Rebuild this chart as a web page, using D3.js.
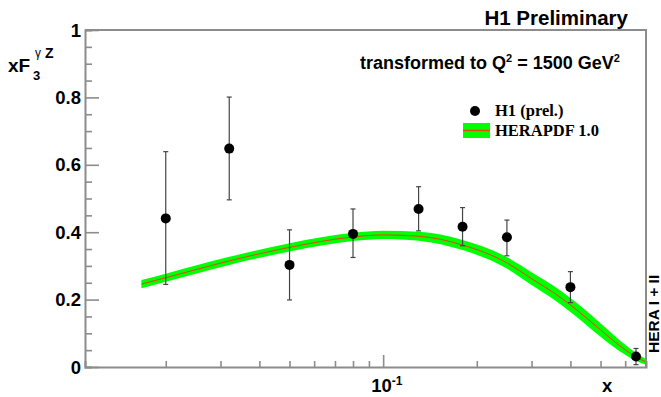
<!DOCTYPE html>
<html>
<head>
<meta charset="utf-8">
<script src="https://cdn.jsdelivr.net/npm/d3@7"></script>
<style>
  body { margin: 0; background: #fff; }
  text { font-family: "Liberation Sans", Arial, sans-serif; font-weight: bold; }
  .serif { font-family: "Liberation Serif", "Times New Roman", serif; }
</style>
</head>
<body>
<svg id="chart" width="661" height="397"></svg>
<script>
// H1 data points (x, xF3 and error bar ends)
const xPts = [0.02, 0.032, 0.05, 0.08, 0.13, 0.18, 0.25, 0.4, 0.65];
const yPts = [0.441, 0.648, 0.303, 0.395, 0.469, 0.416, 0.385, 0.237, 0.031];
const yHi = [0.639, 0.801, 0.407, 0.469, 0.535, 0.473, 0.436, 0.283, 0.055];
const yLo = [0.245, 0.496, 0.199, 0.325, 0.404, 0.360, 0.330, 0.191, 0.007];

// HERAPDF 1.0 central curve and band half width
const bandX = [0.0167, 0.02, 0.032, 0.05, 0.08, 0.1, 0.13, 0.18, 0.25, 0.3, 0.35, 0.4, 0.45, 0.5, 0.55, 0.6, 0.65, 0.7];
const bandC = [0.246, 0.265, 0.315, 0.355, 0.386, 0.392, 0.388, 0.362, 0.309, 0.262, 0.223, 0.184, 0.146, 0.110, 0.078, 0.051, 0.030, 0.015];
const bandW = [0.012, 0.012, 0.012, 0.012, 0.012, 0.012, 0.013, 0.015, 0.017, 0.019, 0.020, 0.021, 0.021, 0.020, 0.018, 0.015, 0.012, 0.008];

const yTicks = [0, 0.2, 0.4, 0.6, 0.8, 1];
const yTickLabels = ["0", "0.2", "0.4", "0.6", "0.8", "1"];

const margin = {top: 30, right: 15, bottom: 30, left: 85};
const width = 661 - margin.left - margin.right;
const height = 397 - margin.top - margin.bottom;

const svg = d3.select("#chart");
const g = svg.append("g")
    .attr("transform", "translate(" + margin.left + "," + margin.top + ")");

const x = d3.scaleLog().domain([0.011, 0.7]).range([0, width]);
const y = d3.scaleLinear().domain([0, 1]).range([height, 0]);

const axisColor = "#8c8c8c";

// band
const band = bandX.map(function(d, i) {
  return {x: d, c: bandC[i], w: bandW[i]};
});
g.append("path")
    .datum(band)
    .attr("fill", "#00ff00")
    .attr("d", d3.area()
        .x(function(d) { return x(d.x); })
        .y0(function(d) { return y(d.c - d.w); })
        .y1(function(d) { return y(d.c + d.w); })
        .curve(d3.curveMonotoneX));
g.append("path")
    .datum(band)
    .attr("fill", "none")
    .attr("stroke", "#f04010")
    .attr("stroke-width", 1)
    .attr("d", d3.line()
        .x(function(d) { return x(d.x); })
        .y(function(d) { return y(d.c); })
        .curve(d3.curveMonotoneX));

// frame: top and right
g.append("path")
    .attr("d", "M0,0H" + width + "V" + height)
    .attr("fill", "none")
    .attr("stroke", axisColor)
    .attr("stroke-width", 2);

// y axis, ticks drawn inside
const yAxis = d3.axisRight(y)
    .tickValues(d3.range(0, 1.0001, 0.05))
    .tickSize(7)
    .tickFormat("");
const yg = g.append("g").call(yAxis);
yg.selectAll(".tick line")
    .attr("x2", function(d) {
      return Math.abs(Math.round(d * 100) % 20) === 0 ? 14 : 7;
    });
yg.selectAll("line, path").attr("stroke", axisColor).attr("stroke-width", 1.6);
yg.select(".domain").attr("stroke-width", 2);

g.selectAll(".ylab")
    .data(yTicks)
    .enter()
    .append("text")
    .attr("class", "ylab")
    .attr("x", -4)
    .attr("y", function(d) { return y(d) + 6.5; })
    .attr("text-anchor", "end")
    .style("font-size", "18.5px")
    .text(function(d, i) { return yTickLabels[i]; });

// x axis, ticks drawn upward
const xMinor = [0.02, 0.03, 0.04, 0.05, 0.06, 0.07, 0.08, 0.09, 0.1, 0.2, 0.3, 0.4, 0.5, 0.6];
const xAxis = d3.axisTop(x)
    .tickValues(xMinor)
    .tickSize(6)
    .tickFormat("");
const xg = g.append("g")
    .attr("transform", "translate(0," + height + ")")
    .call(xAxis);
xg.selectAll(".tick line")
    .attr("y2", function(d) { return d === 0.1 ? -12 : -6; });
xg.selectAll("line, path").attr("stroke", axisColor).attr("stroke-width", 1.6);
xg.select(".domain").attr("stroke-width", 2);

const xl = g.append("text")
    .attr("x", x(0.1) - 12)
    .attr("y", height + 25)
    .style("font-size", "18.5px");
xl.append("tspan").text("10");
xl.append("tspan").attr("dy", -7).style("font-size", "12px").text("-1");

g.append("text")
    .attr("x", x(0.7) - 44)
    .attr("y", height + 25)
    .style("font-size", "18.5px")
    .text("x");

// y axis title
const yt = svg.append("text").attr("x", 8).attr("y", 72).style("font-size", "19px");
yt.append("tspan").text("xF");
yt.append("tspan").attr("x", 33).attr("y", 80).style("font-size", "13px").text("3");
yt.append("tspan").attr("x", 35).attr("y", 57).style("font-size", "12px")
    .style("font-weight", "normal").text("γ");
yt.append("tspan").attr("x", 45).attr("y", 58).style("font-size", "14px").text("Z");

// error bars
const pts = xPts.map(function(d, i) {
  return {x: d, y: yPts[i], hi: yHi[i], lo: yLo[i]};
});
const eb = g.selectAll(".err")
    .data(pts)
    .enter()
    .append("g")
    .attr("class", "err")
    .attr("stroke", "#444")
    .attr("stroke-width", 1.2);
eb.append("line")
    .attr("x1", function(d) { return x(d.x); })
    .attr("x2", function(d) { return x(d.x); })
    .attr("y1", function(d) { return y(d.hi); })
    .attr("y2", function(d) { return y(d.lo); });
eb.append("line")
    .attr("x1", function(d) { return x(d.x) - 2.5; })
    .attr("x2", function(d) { return x(d.x) + 2.5; })
    .attr("y1", function(d) { return y(d.hi); })
    .attr("y2", function(d) { return y(d.hi); });
eb.append("line")
    .attr("x1", function(d) { return x(d.x) - 2.5; })
    .attr("x2", function(d) { return x(d.x) + 2.5; })
    .attr("y1", function(d) { return y(d.lo); })
    .attr("y2", function(d) { return y(d.lo); });

g.selectAll(".pt")
    .data(pts)
    .enter()
    .append("circle")
    .attr("class", "pt")
    .attr("cx", function(d) { return x(d.x); })
    .attr("cy", function(d) { return y(d.y); })
    .attr("r", 5)
    .attr("fill", "#000");

// texts
svg.append("text")
    .attr("x", 628).attr("y", 25)
    .attr("text-anchor", "end")
    .style("font-size", "20.5px")
    .text("H1 Preliminary");

const tq = svg.append("text").attr("x", 360).attr("y", 69).style("font-size", "18px");
tq.append("tspan").text("transformed to Q");
tq.append("tspan").attr("dy", -7).style("font-size", "11px").text("2");
tq.append("tspan").attr("dy", 7).text(" = 1500 GeV");
tq.append("tspan").attr("dy", -7).style("font-size", "11px").text("2");

// legend
svg.append("circle").attr("cx", 475).attr("cy", 111).attr("r", 5).attr("fill", "#000");
svg.append("text").attr("class", "serif")
    .attr("x", 495).attr("y", 116)
    .style("font-size", "16.5px")
    .text("H1 (prel.)");
svg.append("rect")
    .attr("x", 463).attr("y", 123).attr("width", 27).attr("height", 15)
    .attr("fill", "#00ff00");
svg.append("line")
    .attr("x1", 463).attr("x2", 490).attr("y1", 130.5).attr("y2", 130.5)
    .attr("stroke", "#f04010").attr("stroke-width", 1.5);
svg.append("text").attr("class", "serif")
    .attr("x", 495).attr("y", 136)
    .style("font-size", "16.5px")
    .text("HERAPDF 1.0");

// side label, close to the right edge as in the reference
svg.append("text")
    .attr("transform", "translate(659,353) rotate(-90)")
    .style("font-size", "15.5px")
    .text("HERA I + II");
</script>
</body>
</html>
